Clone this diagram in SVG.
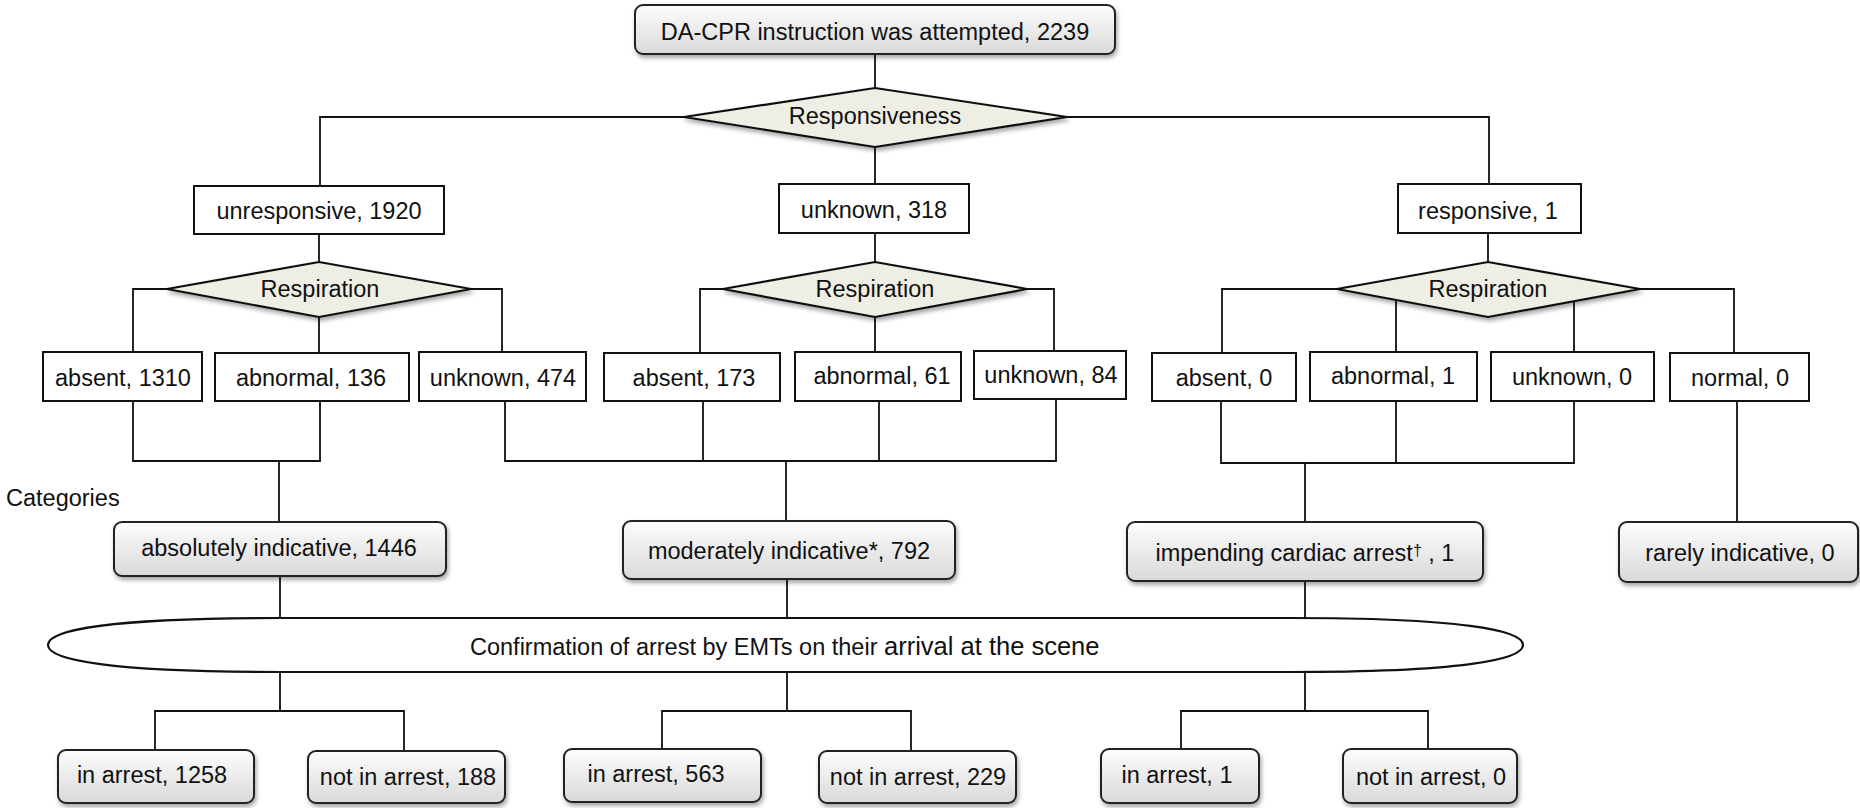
<svg xmlns="http://www.w3.org/2000/svg" width="1860" height="808" viewBox="0 0 1860 808">
<defs>
<linearGradient id="grad" x1="0" y1="0" x2="0" y2="1">
<stop offset="0" stop-color="#fdfdfd"/>
<stop offset="1" stop-color="#d9d9d9"/>
</linearGradient>
<filter id="shadow" x="-5%" y="-20%" width="110%" height="150%">
<feDropShadow dx="1.5" dy="3" stdDeviation="2" flood-color="#000" flood-opacity="0.35"/>
</filter>
</defs>
<style>
text{font-family:"Liberation Sans",Arial,sans-serif;font-size:23.5px;fill:#111;text-anchor:middle}
.box{fill:#fff;stroke:#111;stroke-width:2}
.rbox{fill:url(#grad);stroke:#222;stroke-width:2;filter:url(#shadow)}
.dia{fill:#eeeee5;stroke:#111;stroke-width:2.2;filter:url(#shadow)}
.ell{fill:#fff;stroke:#111;stroke-width:2.2}
.con path{fill:none;stroke:#111;stroke-width:1.8}
</style>
<rect width="1860" height="808" fill="#fff"/>
<g class="con" id="connectors">
<path d="M875,54 V88"/>
<path d="M684,117 H320 V186"/>
<path d="M1067,117 H1489 V184"/>
<path d="M875,147 V184"/>
<path d="M319,234 V262"/>
<path d="M875,233 V262"/>
<path d="M1488,233 V262"/>
<path d="M167,289 H133 V352"/>
<path d="M471,289 H502 V352"/>
<path d="M319,317 V353"/>
<path d="M723,289 H700 V353"/>
<path d="M1027,289 H1054 V351"/>
<path d="M875,317 V353"/>
<path d="M1337,289 H1222 V353"/>
<path d="M1640,289 H1734 V353"/>
<path d="M1396,300 V353"/>
<path d="M1574,301 V353"/>
<path d="M133,401 V461 H320 V401"/>
<path d="M279,461 V522"/>
<path d="M505,401 V461 H1056 V399"/>
<path d="M703,401 V461"/>
<path d="M879,401 V461"/>
<path d="M786,461 V521"/>
<path d="M1221,401 V463 H1574 V401"/>
<path d="M1396,401 V463"/>
<path d="M1305,463 V522"/>
<path d="M1737,401 V522"/>
<path d="M280,576 V618"/>
<path d="M787,579 V618"/>
<path d="M1305,581 V618"/>
<path d="M280,672 V711"/>
<path d="M155,749 V711 H404 V751"/>
<path d="M787,672 V711"/>
<path d="M662,749 V711 H911 V751"/>
<path d="M1305,672 V711"/>
<path d="M1181,749 V711 H1428 V749"/>
</g>
<g id="n-start"><rect class="rbox" x="635" y="5" width="480" height="49" rx="8"/><text x="875" y="40">DA-CPR instruction was attempted, 2239</text></g>
<g id="n-responsiveness"><polygon class="dia" points="684,117 875,88 1067,117 875,147"/><text x="875" y="124">Responsiveness</text></g>
<g id="n-unresponsive"><rect class="box" x="194" y="186" width="250" height="48"/><text x="319" y="219">unresponsive, 1920</text></g>
<g id="n-unknown318"><rect class="box" x="779" y="184" width="190" height="49"/><text x="874" y="218">unknown, 318</text></g>
<g id="n-responsive"><rect class="box" x="1398" y="184" width="183" height="49"/><text x="1488" y="219">responsive, 1</text></g>
<g id="n-resp1"><polygon class="dia" points="167,289 319,262 471,289 319,317"/><text x="320" y="297">Respiration</text></g>
<g id="n-resp2"><polygon class="dia" points="723,289 875,262 1027,289 875,317"/><text x="875" y="297">Respiration</text></g>
<g id="n-resp3"><polygon class="dia" points="1337,289 1488,262 1640,289 1488,317"/><text x="1488" y="297">Respiration</text></g>
<g id="n-absent1310"><rect class="box" x="43" y="352" width="159" height="49"/><text x="123" y="386">absent, 1310</text></g>
<g id="n-abnormal136"><rect class="box" x="215" y="353" width="194" height="48"/><text x="311" y="386">abnormal, 136</text></g>
<g id="n-unknown474"><rect class="box" x="419" y="352" width="167" height="49"/><text x="503" y="386">unknown, 474</text></g>
<g id="n-absent173"><rect class="box" x="604" y="353" width="176" height="48"/><text x="694" y="386">absent, 173</text></g>
<g id="n-abnormal61"><rect class="box" x="795" y="352" width="166" height="49"/><text x="882" y="384">abnormal, 61</text></g>
<g id="n-unknown84"><rect class="box" x="974" y="351" width="152" height="48"/><text x="1051" y="383">unknown, 84</text></g>
<g id="n-absent0"><rect class="box" x="1152" y="353" width="144" height="48"/><text x="1224" y="386">absent, 0</text></g>
<g id="n-abnormal1"><rect class="box" x="1310" y="352" width="167" height="49"/><text x="1393" y="384">abnormal, 1</text></g>
<g id="n-unknown0"><rect class="box" x="1491" y="352" width="163" height="49"/><text x="1572" y="385">unknown, 0</text></g>
<g id="n-normal0"><rect class="box" x="1670" y="353" width="139" height="48"/><text x="1740" y="386">normal, 0</text></g>
<g id="lbl-categories"><text x="6" y="506" style="text-anchor:start">Categories</text></g>
<g id="n-absolutely"><rect class="rbox" x="114" y="522" width="332" height="54" rx="8"/><text x="279" y="556">absolutely indicative, 1446</text></g>
<g id="n-moderately"><rect class="rbox" x="623" y="521" width="332" height="58" rx="8"/><text x="789" y="559">moderately indicative*, 792</text></g>
<g id="n-impending"><rect class="rbox" x="1127" y="522" width="356" height="59" rx="8"/><text x="1305" y="561">impending cardiac arrest<tspan font-size="16" dy="-5">†</tspan><tspan dy="5"> , 1</tspan></text></g>
<g id="n-rarely"><rect class="rbox" x="1619" y="522" width="239" height="60" rx="8"/><text x="1740" y="561">rarely indicative, 0</text></g>
<g id="n-confirmation"><path class="ell" d="M280,618 H1290 C1460,618 1523,630 1523,645 C1523,660 1460,672 1290,672 H280 C110,672 48,660 48,645 C48,630 110,618 280,618 Z"/><text x="470" y="655" style="text-anchor:start">Confirmation of arrest by EMTs on their <tspan font-size="25.5">arrival at the scene</tspan></text></g>
<g id="n-inarrest1258"><rect class="rbox" x="58" y="750" width="196" height="53" rx="8"/><text x="152" y="783">in arrest, 1258</text></g>
<g id="n-notinarrest188"><rect class="rbox" x="308" y="751" width="197" height="52" rx="8"/><text x="408" y="785">not in arrest, 188</text></g>
<g id="n-inarrest563"><rect class="rbox" x="564" y="749" width="197" height="53" rx="8"/><text x="656" y="782">in arrest, 563</text></g>
<g id="n-notinarrest229"><rect class="rbox" x="819" y="751" width="197" height="52" rx="8"/><text x="918" y="785">not in arrest, 229</text></g>
<g id="n-inarrest1"><rect class="rbox" x="1101" y="749" width="158" height="54" rx="8"/><text x="1177" y="783">in arrest, 1</text></g>
<g id="n-notinarrest0"><rect class="rbox" x="1343" y="749" width="174" height="54" rx="8"/><text x="1431" y="785">not in arrest, 0</text></g>
</svg>
